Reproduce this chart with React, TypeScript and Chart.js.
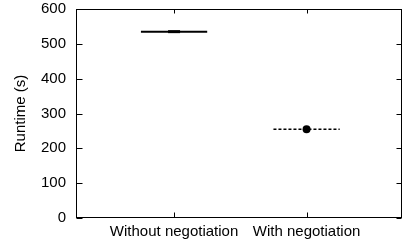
import React, { useEffect, useRef } from "react";
import { Chart, registerables } from "chart.js";

Chart.register(...registerables);

const categories = ["Without negotiation", "With negotiation"];
const runtimes = [535, 255];
const halfWidth = 0.25;
const yTicks = [0, 100, 200, 300, 400, 500, 600];
const FONT = "'Liberation Sans', Arial, Helvetica, sans-serif";

const framePlugin = {
  id: "frame",
  afterDraw(chart: any) {
    const { ctx, chartArea: a, scales } = chart;
    ctx.save();
    ctx.strokeStyle = "#000";
    ctx.lineWidth = 1;
    const L = Math.round(a.left) + 0.5;
    const R = Math.round(a.right) - 0.5;
    const T = Math.round(a.top) + 0.5;
    const B = Math.round(a.bottom) - 0.5;
    ctx.strokeRect(L, T, R - L, B - T);
    ctx.beginPath();
    yTicks.forEach((v) => {
      const y = Math.round(scales.y.getPixelForValue(v)) + 0.5;
      ctx.moveTo(L, y);
      ctx.lineTo(L + 6, y);
      ctx.moveTo(R, y);
      ctx.lineTo(R - 5, y);
    });
    categories.forEach((_, i) => {
      const x = Math.round(scales.x.getPixelForValue(i)) + 0.5;
      ctx.moveTo(x, B);
      ctx.lineTo(x, B - 5);
      ctx.moveTo(x, T);
      ctx.lineTo(x, T + 4);
    });
    ctx.stroke();
    ctx.restore();
  },
};

const zeroPad = (s: any) => {
  s.paddingTop = 0;
  s.paddingBottom = 0;
  s.paddingLeft = 0;
  s.paddingRight = 0;
};

export default function App() {
  const ref = useRef<HTMLCanvasElement>(null);
  useEffect(() => {
    document.body.style.margin = "0";
    const chart = new Chart(ref.current!, {
      type: "scatter",
      data: {
        datasets: [
          {
            data: [
              { x: 0 - halfWidth, y: runtimes[0] },
              { x: 0 + halfWidth, y: runtimes[0] },
            ],
            showLine: true,
            borderColor: "#000",
            borderWidth: 2,
            pointRadius: 0,
          },
          {
            data: [{ x: 0, y: runtimes[0] }],
            pointStyle: "line",
            pointRadius: 6,
            borderColor: "#000",
            pointBorderWidth: 3,
          },
          {
            data: [
              { x: 1 - halfWidth, y: runtimes[1] },
              { x: 1 + halfWidth, y: runtimes[1] },
            ],
            showLine: true,
            borderColor: "#000",
            borderWidth: 1.5,
            borderDash: [3, 2],
            pointRadius: 0,
          },
          {
            data: [{ x: 1, y: runtimes[1] }],
            pointStyle: "circle",
            pointRadius: 4,
            backgroundColor: "#000",
            borderColor: "#000",
            pointBorderWidth: 0,
          },
        ],
      },
      options: {
        animation: false,
        responsive: false,
        maintainAspectRatio: false,
        layout: { autoPadding: false, padding: { top: 9, right: 1, left: 0, bottom: 0 } },
        plugins: { legend: { display: false }, tooltip: { enabled: false } },
        scales: {
          x: {
            type: "linear",
            min: -0.74,
            max: 1.72,
            afterBuildTicks: (s: any) => {
              s.ticks = categories.map((_, i) => ({ value: i }));
            },
            afterFit: (s: any) => {
              s.height = 29;
              zeroPad(s);
            },
            grid: { display: false, drawTicks: false },
            border: { display: false },
            ticks: {
              color: "#000",
              font: { family: FONT, size: 15 },
              padding: 5,
              maxRotation: 0,
              autoSkip: false,
              callback: (v: any) => categories[v] ?? "",
            },
          },
          y: {
            min: 0,
            max: 600,
            afterBuildTicks: (s: any) => {
              s.ticks = yTicks.map((v) => ({ value: v }));
            },
            afterFit: (s: any) => {
              s.width = 76;
              zeroPad(s);
            },
            grid: { display: false, drawTicks: false },
            border: { display: false },
            ticks: {
              color: "#000",
              font: { family: FONT, size: 15 },
              padding: 10,
            },
            title: {
              display: true,
              text: "Runtime (s)",
              color: "#000",
              font: { family: FONT, size: 15 },
              padding: { top: 12, bottom: 0 },
            },
          },
        },
      },
      plugins: [framePlugin],
    });
    return () => chart.destroy();
  }, []);
  return (
    <div style={{ width: 403, height: 247 }}>
      <canvas ref={ref} width={403} height={247} style={{ display: "block" }} />
    </div>
  );
}
